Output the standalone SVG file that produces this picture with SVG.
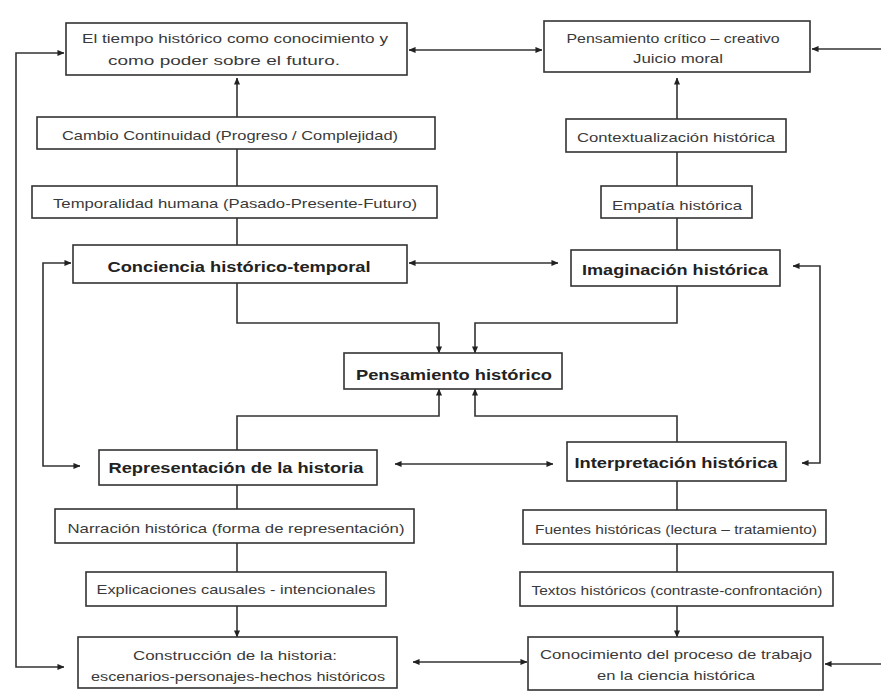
<svg xmlns="http://www.w3.org/2000/svg" width="881" height="693" viewBox="0 0 881 693">
<defs>
<marker id="ah" viewBox="0 0 8 8" refX="7.5" refY="4" markerWidth="7" markerHeight="7" markerUnits="userSpaceOnUse" orient="auto-start-reverse">
<path d="M0,0.5 L8,4 L0,7.5 Z" fill="#222"/>
</marker>
<style>
.bx{fill:#fff;stroke:#333;stroke-width:1.6}
.t{font-family:"Liberation Sans","DejaVu Sans",sans-serif;font-size:13px;fill:#3a3a3a;text-anchor:middle}
.b{font-family:"Liberation Sans","DejaVu Sans",sans-serif;font-size:14px;font-weight:bold;fill:#222;text-anchor:middle}
.c{fill:none;stroke:#333;stroke-width:1.6}
</style>
</defs>
<rect width="881" height="693" fill="#fff"/>
<g id="connectors">
<path class="c" d="M237 245 V78" marker-end="url(#ah)"/>
<path class="c" d="M677 250 V78" marker-end="url(#ah)"/>
<path class="c" d="M409 50 H542" marker-start="url(#ah)" marker-end="url(#ah)"/>
<path class="c" d="M881 49 H812" marker-end="url(#ah)"/>
<path class="c" d="M64 53 H16 V667 H64" marker-start="url(#ah)" marker-end="url(#ah)"/>
<path class="c" d="M881 664 H825" marker-end="url(#ah)"/>
<path class="c" d="M409 263 H558" marker-start="url(#ah)" marker-end="url(#ah)"/>
<path class="c" d="M71 263 H43 V466 H80" marker-start="url(#ah)" marker-end="url(#ah)"/>
<path class="c" d="M793 266 H820 V463 H802" marker-start="url(#ah)" marker-end="url(#ah)"/>
<path class="c" d="M395 464 H553" marker-start="url(#ah)" marker-end="url(#ah)"/>
<path class="c" d="M237 283 V323 H439 V353" marker-end="url(#ah)"/>
<path class="c" d="M677 286 V323 H475 V353" marker-end="url(#ah)"/>
<path class="c" d="M237 450 V416 H439 V389" marker-end="url(#ah)"/>
<path class="c" d="M677 442 V416 H475 V389" marker-end="url(#ah)"/>
<path class="c" d="M237 485 V637" marker-end="url(#ah)"/>
<path class="c" d="M677 481 V637" marker-end="url(#ah)"/>
<path class="c" d="M413 662 H527" marker-start="url(#ah)" marker-end="url(#ah)"/>
</g>
<g id="n-tiempo"><rect class="bx" x="66" y="23" width="341" height="52"/>
<text class="t" x="235" y="43" textLength="306" lengthAdjust="spacingAndGlyphs">El tiempo histórico como conocimiento y</text>
<text class="t" x="224" y="65" textLength="232" lengthAdjust="spacingAndGlyphs">como poder sobre el futuro.</text></g>
<g id="n-critico"><rect class="bx" x="544" y="21" width="266" height="51"/>
<text class="t" x="673" y="43" textLength="213" lengthAdjust="spacingAndGlyphs">Pensamiento crítico – creativo</text>
<text class="t" x="678" y="63" textLength="90" lengthAdjust="spacingAndGlyphs">Juicio moral</text></g>
<g id="n-cambio"><rect class="bx" x="37" y="117" width="398" height="32"/>
<text class="t" x="230" y="140" textLength="336" lengthAdjust="spacingAndGlyphs">Cambio Continuidad (Progreso / Complejidad)</text></g>
<g id="n-temporalidad"><rect class="bx" x="32" y="186" width="405" height="32"/>
<text class="t" x="235" y="208" textLength="364" lengthAdjust="spacingAndGlyphs">Temporalidad humana (Pasado-Presente-Futuro)</text></g>
<g id="n-contexto"><rect class="bx" x="566" y="119" width="220" height="33"/>
<text class="t" x="676" y="142" textLength="198" lengthAdjust="spacingAndGlyphs">Contextualización histórica</text></g>
<g id="n-empatia"><rect class="bx" x="601" y="186" width="151" height="32"/>
<text class="t" x="677" y="210" textLength="130" lengthAdjust="spacingAndGlyphs">Empatía histórica</text></g>
<g id="n-conciencia"><rect class="bx" x="73" y="245" width="334" height="38"/>
<text class="b" x="239" y="272" textLength="263" lengthAdjust="spacingAndGlyphs">Conciencia histórico-temporal</text></g>
<g id="n-imaginacion"><rect class="bx" x="571" y="250" width="209" height="36"/>
<text class="b" x="675" y="275" textLength="186" lengthAdjust="spacingAndGlyphs">Imaginación histórica</text></g>
<g id="n-pensamiento"><rect class="bx" x="344" y="353" width="218" height="36"/>
<text class="b" x="454" y="380" textLength="196" lengthAdjust="spacingAndGlyphs">Pensamiento histórico</text></g>
<g id="n-representacion"><rect class="bx" x="99" y="450" width="278" height="35"/>
<text class="b" x="236" y="473" textLength="255" lengthAdjust="spacingAndGlyphs">Representación de la historia</text></g>
<g id="n-interpretacion"><rect class="bx" x="567" y="442" width="219" height="39"/>
<text class="b" x="676" y="468" textLength="203" lengthAdjust="spacingAndGlyphs">Interpretación histórica</text></g>
<g id="n-narracion"><rect class="bx" x="55" y="509" width="359" height="34"/>
<text class="t" x="236" y="533" textLength="337" lengthAdjust="spacingAndGlyphs">Narración histórica (forma de representación)</text></g>
<g id="n-explicaciones"><rect class="bx" x="86" y="572" width="300" height="34"/>
<text class="t" x="236" y="594" textLength="279" lengthAdjust="spacingAndGlyphs">Explicaciones causales - intencionales</text></g>
<g id="n-construccion"><rect class="bx" x="78" y="637" width="319" height="51"/>
<text class="t" x="235" y="660" textLength="204" lengthAdjust="spacingAndGlyphs">Construcción de la historia:</text>
<text class="t" x="238" y="681" textLength="294" lengthAdjust="spacingAndGlyphs">escenarios-personajes-hechos históricos</text></g>
<g id="n-fuentes"><rect class="bx" x="523" y="510" width="303" height="34"/>
<text class="t" x="676" y="534" textLength="282" lengthAdjust="spacingAndGlyphs">Fuentes históricas (lectura – tratamiento)</text></g>
<g id="n-textos"><rect class="bx" x="520" y="572" width="313" height="34"/>
<text class="t" x="677" y="595" textLength="291" lengthAdjust="spacingAndGlyphs">Textos históricos (contraste-confrontación)</text></g>
<g id="n-conocimiento"><rect class="bx" x="528" y="637" width="295" height="53"/>
<text class="t" x="676" y="659" textLength="272" lengthAdjust="spacingAndGlyphs">Conocimiento del proceso de trabajo</text>
<text class="t" x="676" y="680" textLength="158" lengthAdjust="spacingAndGlyphs">en la ciencia histórica</text></g>
</svg>
